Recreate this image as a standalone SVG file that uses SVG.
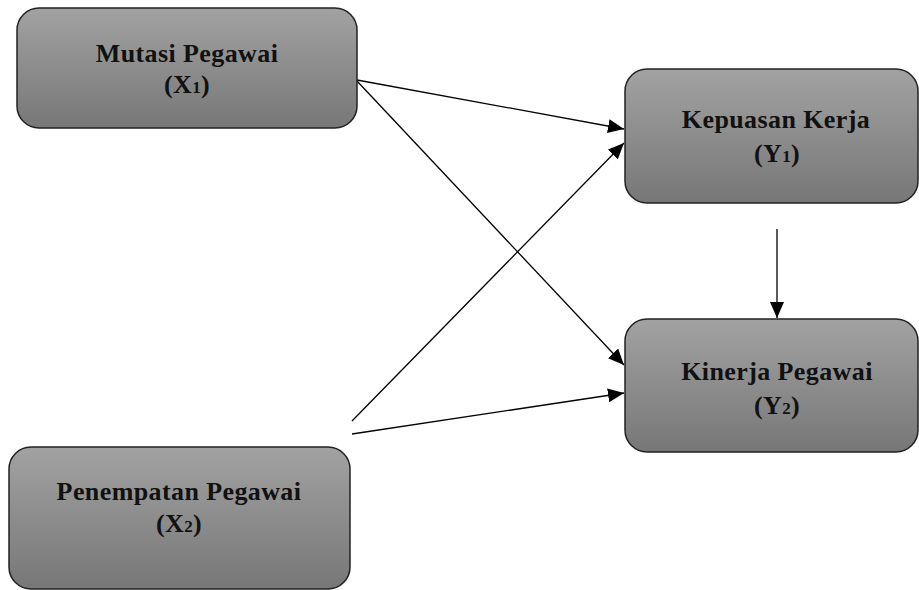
<svg xmlns="http://www.w3.org/2000/svg" width="919" height="590" viewBox="0 0 919 590">
<style>
.box{fill:url(#g);stroke:#222;stroke-width:1.5}
.t{font-family:"Liberation Serif","Times New Roman",serif;font-weight:bold;font-size:26px;letter-spacing:0.4px;fill:#111;text-anchor:middle}
.sub{font-size:17px}
.c{stroke:#000;stroke-width:1.3;fill:none;marker-end:url(#ah)}
</style>
<defs>
<linearGradient id="g" x1="0" y1="0" x2="0" y2="1">
<stop offset="0" stop-color="#a2a2a2"/>
<stop offset="1" stop-color="#777777"/>
</linearGradient>
<marker id="ah" markerUnits="userSpaceOnUse" markerWidth="17" markerHeight="15" refX="16" refY="7" orient="auto">
<path d="M0,0 L16,7 L0,14 z" fill="#000"/>
</marker>
</defs>
<g id="connectors">
<line class="c" x1="357" y1="80" x2="624" y2="129"/>
<line class="c" x1="357" y1="81" x2="624" y2="365"/>
<line class="c" x1="352" y1="421" x2="624" y2="143"/>
<line class="c" x1="352" y1="434" x2="624" y2="393"/>
<line class="c" x1="777" y1="229" x2="777" y2="318"/>
</g>
<g id="mutasi">
<rect class="box" x="17" y="8" width="340" height="120" rx="22"/>
<text class="t" x="187" y="62">Mutasi Pegawai</text>
<text class="t" x="187" y="93">(X<tspan class="sub">1</tspan>)</text>
</g>
<g id="kepuasan">
<rect class="box" x="625" y="69" width="293" height="134" rx="22"/>
<text class="t" x="776" y="128">Kepuasan Kerja</text>
<text class="t" x="777" y="162">(Y<tspan class="sub">1</tspan>)</text>
</g>
<g id="kinerja">
<rect class="box" x="625" y="319" width="293" height="133" rx="22"/>
<text class="t" x="777" y="380">Kinerja Pegawai</text>
<text class="t" x="777" y="414">(Y<tspan class="sub">2</tspan>)</text>
</g>
<g id="penempatan">
<rect class="box" x="9" y="447" width="341" height="142" rx="22"/>
<text class="t" x="179" y="500">Penempatan Pegawai</text>
<text class="t" x="179" y="532">(X<tspan class="sub">2</tspan>)</text>
</g>
</svg>
